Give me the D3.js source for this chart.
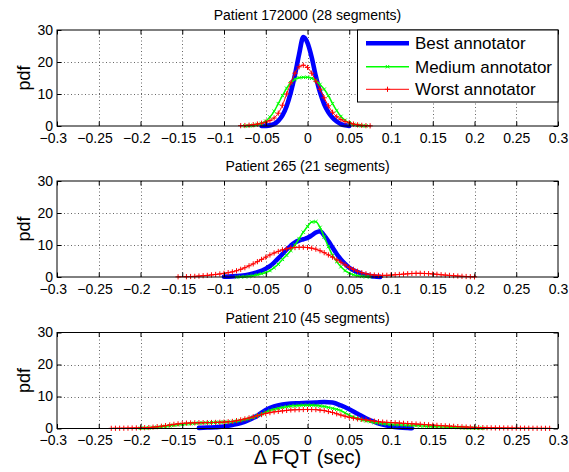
<!DOCTYPE html>
<html>
<head>
<meta charset="utf-8">
<script src="https://cdnjs.cloudflare.com/ajax/libs/d3/7.8.5/d3.min.js"></script>
<style>
  html, body { margin: 0; padding: 0; background: #fff; }
  svg { display: block; font-family: "Liberation Sans", Arial, Helvetica, sans-serif; }
</style>
</head>
<body>
<svg id="chart" width="569" height="472"></svg>
<script>
// ---------------- DATA ----------------
const titles = ["Patient 172000 (28 segments)", "Patient 265 (21 segments)", "Patient 210 (45 segments)"];
const seriesNames = ["Best annotator", "Medium annotator", "Worst annotator"];
const xTicks = [-0.3, -0.25, -0.2, -0.15, -0.1, -0.05, 0, 0.05, 0.1, 0.15, 0.2, 0.25, 0.3];
const xTickLabels = ["\u22120.3", "\u22120.25", "\u22120.2", "\u22120.15", "\u22120.1", "\u22120.05", "0", "0.05", "0.1", "0.15", "0.2", "0.25", "0.3"];
const yTicks = [0, 10, 20, 30];
const yTickLabels = ["0", "10", "20", "30"];

// Patient 172000  [delta FQT, pdf]
const p1Best = [[-0.055,0],[-0.045,0.2],[-0.04,0.6],[-0.035,1.6],[-0.03,3.3],[-0.025,6.2],[-0.02,10.5],[-0.015,16],[-0.01,22.5],[-0.005,27.8],[0,26],[0.005,21.5],[0.01,15.5],[0.015,10.5],[0.02,6.8],[0.025,4.3],[0.03,2.6],[0.035,1.4],[0.04,0.6],[0.045,0.2],[0.05,0]];
const p1Medium = [[-0.075,0.05],[-0.07,0.1],[-0.065,0.2],[-0.06,0.45],[-0.055,0.8],[-0.05,1.5],[-0.045,2.8],[-0.04,4.6],[-0.035,7.0],[-0.03,9.5],[-0.025,11.8],[-0.02,13.5],[-0.015,14.6],[-0.01,15.1],[-0.005,15.2],[0,15.2],[0.005,14.9],[0.01,14.2],[0.015,13.0],[0.02,11.5],[0.025,9.5],[0.03,7.0],[0.035,4.8],[0.04,3.0],[0.045,1.8],[0.05,1.0],[0.055,0.5],[0.06,0.25],[0.065,0.1],[0.07,0.05]];
const p1Worst = [[-0.08,0.1],[-0.075,0.15],[-0.07,0.25],[-0.065,0.4],[-0.06,0.6],[-0.055,0.85],[-0.05,1.2],[-0.045,1.7],[-0.04,2.5],[-0.035,4.0],[-0.03,6.5],[-0.025,10],[-0.02,13.5],[-0.015,16.5],[-0.01,18.5],[-0.005,19],[0,18.3],[0.005,16.5],[0.01,14],[0.015,11.5],[0.02,8.8],[0.025,6.3],[0.03,4.3],[0.035,2.9],[0.04,2.0],[0.045,1.4],[0.05,1.0],[0.055,0.6],[0.06,0.35],[0.065,0.2],[0.07,0.1],[0.075,0.05]];

// Patient 265
const p2Best = [[-0.1,0.1],[-0.09,0.2],[-0.08,0.4],[-0.07,0.8],[-0.06,1.5],[-0.05,2.6],[-0.045,3.4],[-0.04,4.5],[-0.035,5.8],[-0.03,7.2],[-0.025,8.6],[-0.02,9.8],[-0.015,10.8],[-0.01,11.4],[-0.005,11.8],[0,12.2],[0.005,13.0],[0.01,13.9],[0.015,14.3],[0.02,13.0],[0.025,11.2],[0.03,9.2],[0.035,7.2],[0.04,5.5],[0.045,4.1],[0.05,2.9],[0.055,2.1],[0.06,1.5],[0.065,1.0],[0.07,0.6],[0.075,0.35],[0.08,0.15],[0.087,0.05]];
const p2Medium = [[-0.085,0],[-0.08,0.05],[-0.075,0.1],[-0.07,0.2],[-0.065,0.4],[-0.06,0.7],[-0.055,1.0],[-0.05,1.4],[-0.045,2.0],[-0.04,2.9],[-0.035,4.0],[-0.03,5.5],[-0.025,6.8],[-0.02,8.3],[-0.015,10],[-0.01,12],[-0.005,14],[0,15.8],[0.005,17.2],[0.01,17.3],[0.015,15.5],[0.02,12.5],[0.025,9.5],[0.03,6.8],[0.035,4.8],[0.04,3.2],[0.045,2.0],[0.05,1.2],[0.055,0.7],[0.06,0.4],[0.065,0.2],[0.07,0.1],[0.075,0.05]];
const p2Worst = [[-0.155,0.05],[-0.145,0.1],[-0.14,0.15],[-0.135,0.2],[-0.13,0.3],[-0.125,0.4],[-0.12,0.5],[-0.115,0.65],[-0.11,0.8],[-0.105,0.95],[-0.1,1.15],[-0.095,1.35],[-0.09,1.6],[-0.085,1.95],[-0.08,2.4],[-0.075,2.9],[-0.07,3.5],[-0.065,4.1],[-0.06,4.8],[-0.055,5.5],[-0.05,6.2],[-0.045,6.9],[-0.04,7.5],[-0.035,8.0],[-0.03,8.5],[-0.025,8.8],[-0.02,9.1],[-0.015,9.2],[-0.01,9.3],[-0.005,9.3],[0,9.2],[0.005,9.0],[0.01,8.7],[0.015,8.2],[0.02,7.6],[0.025,6.9],[0.03,6.2],[0.035,5.4],[0.04,4.6],[0.045,3.8],[0.05,3.0],[0.055,2.4],[0.06,1.8],[0.065,1.35],[0.07,1.0],[0.075,0.75],[0.08,0.6],[0.085,0.52],[0.09,0.5],[0.095,0.52],[0.1,0.6],[0.105,0.7],[0.11,0.8],[0.115,0.9],[0.12,1.0],[0.125,1.1],[0.13,1.15],[0.135,1.15],[0.14,1.1],[0.145,1.05],[0.15,0.95],[0.155,0.85],[0.16,0.7],[0.165,0.6],[0.17,0.5],[0.175,0.4],[0.18,0.3],[0.185,0.22],[0.19,0.15],[0.195,0.1],[0.2,0.05]];

// Patient 210
const p3Best = [[-0.13,0.2],[-0.12,0.3],[-0.11,0.4],[-0.1,0.6],[-0.09,1.1],[-0.08,1.7],[-0.07,2.7],[-0.06,4.0],[-0.05,5.8],[-0.04,6.9],[-0.03,7.5],[-0.02,7.8],[-0.01,7.9],[0,8.0],[0.01,8.1],[0.02,8.3],[0.03,8.1],[0.04,7.2],[0.05,6.0],[0.06,4.6],[0.07,3.2],[0.08,2.1],[0.09,1.2],[0.1,0.6],[0.11,0.3],[0.12,0.15],[0.125,0.1]];
const p3Medium = [[-0.2,0.1],[-0.195,0.15],[-0.19,0.2],[-0.185,0.3],[-0.18,0.4],[-0.175,0.55],[-0.17,0.7],[-0.165,0.85],[-0.16,1.0],[-0.155,1.15],[-0.15,1.3],[-0.145,1.4],[-0.14,1.5],[-0.135,1.6],[-0.13,1.7],[-0.125,1.75],[-0.12,1.8],[-0.115,1.85],[-0.11,1.9],[-0.105,1.95],[-0.1,2.0],[-0.095,2.05],[-0.09,2.1],[-0.085,2.3],[-0.08,2.5],[-0.075,2.8],[-0.07,3.1],[-0.065,3.5],[-0.06,4.0],[-0.055,4.5],[-0.05,5.1],[-0.045,5.6],[-0.04,6.0],[-0.035,6.3],[-0.03,6.6],[-0.025,6.8],[-0.02,7.0],[-0.015,7.1],[-0.01,7.2],[-0.005,7.25],[0,7.3],[0.005,7.25],[0.01,7.2],[0.015,7.05],[0.02,6.9],[0.025,6.6],[0.03,6.3],[0.035,6.0],[0.04,5.6],[0.045,4.9],[0.05,4.2],[0.055,3.6],[0.06,3.1],[0.065,2.7],[0.07,2.4],[0.075,2.15],[0.08,1.9],[0.085,1.7],[0.09,1.5],[0.095,1.4],[0.1,1.3],[0.105,1.22],[0.11,1.15],[0.115,1.07],[0.12,1.0],[0.125,0.95],[0.13,0.9],[0.135,0.82],[0.14,0.75],[0.145,0.68],[0.15,0.6],[0.155,0.55],[0.16,0.5],[0.165,0.45],[0.17,0.4],[0.175,0.35],[0.18,0.3],[0.185,0.25],[0.19,0.2],[0.195,0.16],[0.2,0.12],[0.205,0.08],[0.21,0.05]];
const p3Worst = [[-0.235,0.05],[-0.23,0.07],[-0.225,0.08],[-0.22,0.1],[-0.215,0.12],[-0.21,0.15],[-0.205,0.17],[-0.2,0.2],[-0.195,0.25],[-0.19,0.3],[-0.185,0.42],[-0.18,0.55],[-0.175,0.7],[-0.17,0.9],[-0.165,1.1],[-0.16,1.3],[-0.155,1.45],[-0.15,1.6],[-0.145,1.68],[-0.14,1.75],[-0.135,1.78],[-0.13,1.8],[-0.125,1.82],[-0.12,1.85],[-0.115,1.87],[-0.11,1.9],[-0.105,1.95],[-0.1,2.0],[-0.095,2.1],[-0.09,2.2],[-0.085,2.45],[-0.08,2.7],[-0.075,3.0],[-0.07,3.3],[-0.065,3.65],[-0.06,4.0],[-0.055,4.35],[-0.05,4.7],[-0.045,4.95],[-0.04,5.2],[-0.035,5.35],[-0.03,5.5],[-0.025,5.65],[-0.02,5.8],[-0.015,5.85],[-0.01,5.9],[-0.005,5.92],[0,5.95],[0.005,5.92],[0.01,5.9],[0.015,5.75],[0.02,5.6],[0.025,5.3],[0.03,5.0],[0.035,4.6],[0.04,4.2],[0.045,3.85],[0.05,3.5],[0.055,3.25],[0.06,3.0],[0.065,2.85],[0.07,2.7],[0.075,2.5],[0.08,2.3],[0.085,2.15],[0.09,2.0],[0.095,1.92],[0.1,1.85],[0.105,1.78],[0.11,1.7],[0.115,1.62],[0.12,1.55],[0.125,1.48],[0.13,1.4],[0.135,1.32],[0.14,1.25],[0.145,1.15],[0.15,1.05],[0.155,0.98],[0.16,0.9],[0.165,0.82],[0.17,0.75],[0.175,0.68],[0.18,0.6],[0.185,0.52],[0.19,0.45],[0.195,0.4],[0.2,0.35],[0.205,0.31],[0.21,0.27],[0.215,0.23],[0.22,0.2],[0.225,0.18],[0.23,0.17],[0.235,0.16],[0.24,0.15],[0.245,0.14],[0.25,0.13],[0.255,0.11],[0.26,0.1],[0.265,0.09],[0.27,0.08],[0.275,0.07],[0.28,0.06],[0.285,0.055],[0.29,0.05]];

const panelData = [
  [p1Best, p1Medium, p1Worst],
  [p2Best, p2Medium, p2Worst],
  [p3Best, p3Medium, p3Worst]
];

// ---------------- STYLE / LAYOUT ----------------
const colors = ["#0000ff", "#00ff00", "#ff0000"];
const widths = [4.6, 1.5, 1];
const markers = ["none", "x", "plus"];
const panels = [{top: 30, bottom: 126}, {top: 181, bottom: 277}, {top: 332.5, bottom: 428.5}];
const left = 57, right = 558;
const tickFont = "14px";

const svg = d3.select("#chart");
const x = d3.scaleLinear().domain([-0.3, 0.3]).range([left, right]);

panels.forEach((p, pi) => {
  const y = d3.scaleLinear().domain([0, 30]).range([p.bottom, p.top]);
  const g = svg.append("g");

  // grid
  const grid = g.append("g").attr("stroke", "#666").attr("stroke-width", 1).attr("stroke-dasharray", "1,2.5");
  xTicks.slice(1, -1).forEach(v => {
    grid.append("line").attr("x1", Math.round(x(v)) + 0.5).attr("x2", Math.round(x(v)) + 0.5)
      .attr("y1", p.top).attr("y2", p.bottom);
  });
  yTicks.slice(1, -1).forEach(v => {
    grid.append("line").attr("y1", Math.round(y(v)) + 0.5).attr("y2", Math.round(y(v)) + 0.5)
      .attr("x1", left).attr("x2", right);
  });

  // curves
  const line = d3.line().x(d => x(d[0])).y(d => y(d[1])).curve(d3.curveMonotoneX);
  panelData[pi].forEach((series, si) => {
    g.append("path").datum(series)
      .attr("d", line)
      .attr("fill", "none")
      .attr("stroke", colors[si])
      .attr("stroke-width", widths[si])
      .attr("stroke-linejoin", "round")
      .attr("stroke-linecap", "round");
    if (markers[si] !== "none") {
      const s = markers[si] === "x" ? 1.7 : 2.6;
      const mk = g.append("g").attr("stroke", colors[si]).attr("stroke-width", 1).attr("fill", "none");
      mk.selectAll("path").data(series).join("path")
        .attr("d", d => {
          const cx = x(d[0]), cy = y(d[1]);
          return markers[si] === "x"
            ? `M${cx - s},${cy - s}L${cx + s},${cy + s}M${cx - s},${cy + s}L${cx + s},${cy - s}`
            : `M${cx - s},${cy}L${cx + s},${cy}M${cx},${cy - s}L${cx},${cy + s}`;
        });
    }
  });

  // axes (ticks inside)
  const xb = d3.axisBottom(x).tickValues(xTicks).tickFormat((d, i) => xTickLabels[i]).tickSizeInner(-4.5).tickSizeOuter(0).tickPadding(6.7);
  const xt = d3.axisTop(x).tickValues(xTicks).tickFormat("").tickSizeInner(-4.5).tickSizeOuter(0);
  const yl = d3.axisLeft(y).tickValues(yTicks).tickFormat((d, i) => yTickLabels[i]).tickSizeInner(-4.5).tickSizeOuter(0).tickPadding(4);
  const yr = d3.axisRight(y).tickValues(yTicks).tickFormat("").tickSizeInner(-4.5).tickSizeOuter(0);

  const gxb = g.append("g").attr("transform", `translate(0,${p.bottom})`).call(xb);
  g.append("g").attr("transform", `translate(0,${p.top})`).call(xt);
  const gyl = g.append("g").attr("transform", `translate(${left},0)`).call(yl);
  g.append("g").attr("transform", `translate(${right},0)`).call(yr);
  g.selectAll(".domain").remove();
  g.selectAll(".tick line").attr("stroke", "#000");
  gxb.selectAll("text").attr("font-size", tickFont).attr("fill", "#000").attr("font-family", "Liberation Sans, Arial, sans-serif")
    .attr("dx", d => d < 0 ? "-0.3em" : 0);
  gyl.selectAll("text").attr("font-size", tickFont).attr("fill", "#000").attr("font-family", "Liberation Sans, Arial, sans-serif")
    .attr("dy", "0.3em");

  // box
  g.append("rect").attr("x", left).attr("y", p.top).attr("width", right - left).attr("height", p.bottom - p.top)
    .attr("fill", "none").attr("stroke", "#000").attr("stroke-width", 1);

  // title
  g.append("text").attr("x", (left + right) / 2).attr("y", p.top - 10)
    .attr("text-anchor", "middle").attr("font-size", "14px").attr("fill", "#000").text(titles[pi]);

  // y label
  g.append("text").attr("transform", `translate(30,${(p.top + p.bottom) / 2}) rotate(-90)`)
    .attr("text-anchor", "middle").attr("font-size", "18px").attr("fill", "#000").text("pdf");
});

// x label
svg.append("text").attr("x", (left + right) / 2).attr("y", 464)
  .attr("text-anchor", "middle").attr("font-size", "20px").attr("fill", "#000").text("\u0394 FQT (sec)");

// legend
const lg = svg.append("g");
lg.append("rect").attr("x", 357.5).attr("y", 30).attr("width", 200.5).attr("height", 72)
  .attr("fill", "#fff").attr("stroke", "#000").attr("stroke-width", 1);
const rowY = [43.3, 66.7, 89.3];
seriesNames.forEach((name, i) => {
  lg.append("line").attr("x1", 366).attr("x2", 409).attr("y1", rowY[i]).attr("y2", rowY[i])
    .attr("stroke", colors[i]).attr("stroke-width", widths[i]);
  if (markers[i] !== "none") {
    const cx = 387.5, cy = rowY[i], s = markers[i] === "x" ? 1.7 : 2.6;
    lg.append("path").attr("stroke", colors[i]).attr("stroke-width", 1).attr("fill", "none")
      .attr("d", markers[i] === "x"
        ? `M${cx - s},${cy - s}L${cx + s},${cy + s}M${cx - s},${cy + s}L${cx + s},${cy - s}`
        : `M${cx - s},${cy}L${cx + s},${cy}M${cx},${cy - s}L${cx},${cy + s}`);
  }
  lg.append("text").attr("x", 415).attr("y", rowY[i]).attr("dy", "0.36em")
    .attr("font-size", "17px").attr("fill", "#000").text(name);
});
</script>
</body>
</html>
